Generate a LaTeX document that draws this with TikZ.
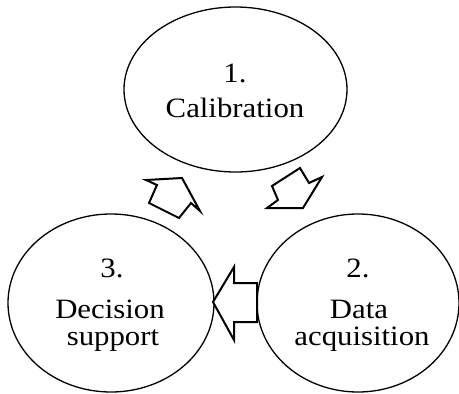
\documentclass[tikz,border=0pt]{standalone}
\usepackage{fontspec}
\setmainfont{Liberation Serif}
\usetikzlibrary{shapes.geometric}
\begin{document}
\begin{tikzpicture}[x=1pt,y=-1pt,
  ell/.style={draw=black, line width=1.3pt, ellipse, inner sep=0pt},
  lbl/.style={anchor=base, inner sep=0pt, font=\fontsize{28}{32}\selectfont},
  blockarrow/.style={draw=black, line width=2pt, line join=miter, fill=white}]
\useasboundingbox (0,0) rectangle (459,394);

% the three stages
\node[ell, minimum width=223pt, minimum height=165pt] (cal) at (235.5,89.5) {};
\node[ell, minimum width=206pt, minimum height=178pt] (dec) at (111,303) {};
\node[ell, minimum width=202pt, minimum height=178pt] (dat) at (358,303) {};

% stage labels
\node[lbl] (n1) at (235,82) {\scalebox{1.1}[1]{1.}};
\node[lbl] (t1) at (235,117) {\scalebox{1.1}[1]{Calibration}};
\node[lbl] (n3) at (112,277) {\scalebox{1.1}[1]{3.}};
\node[lbl] (t3a) at (110,318) {\scalebox{1.1}[1]{Decision}};
\node[lbl] (t3b) at (113,345) {\scalebox{1.1}[1]{support}};
\node[lbl] (n2) at (358,277) {\scalebox{1.1}[1]{2.}};
\node[lbl] (t2a) at (359,318) {\scalebox{1.1}[1]{Data}};
\node[lbl] (t2b) at (362,345) {\scalebox{1.1}[1]{acquisition}};

% block arrows between the stages
\draw[blockarrow] (146,180) -- (182,178) -- (200,211) -- (191,203) -- (179,218)
  -- (149,203) -- (157,185) -- cycle;
\draw[blockarrow] (303,208) -- (267,208) -- (278,200) -- (272,186) -- (300,168)
  -- (309,183) -- (322,177) -- cycle;
\draw[blockarrow] (213,302) -- (234,267) -- (234,283) -- (257,283) -- (257,322)
  -- (234,322) -- (234,340) -- cycle;
\end{tikzpicture}
\end{document}
